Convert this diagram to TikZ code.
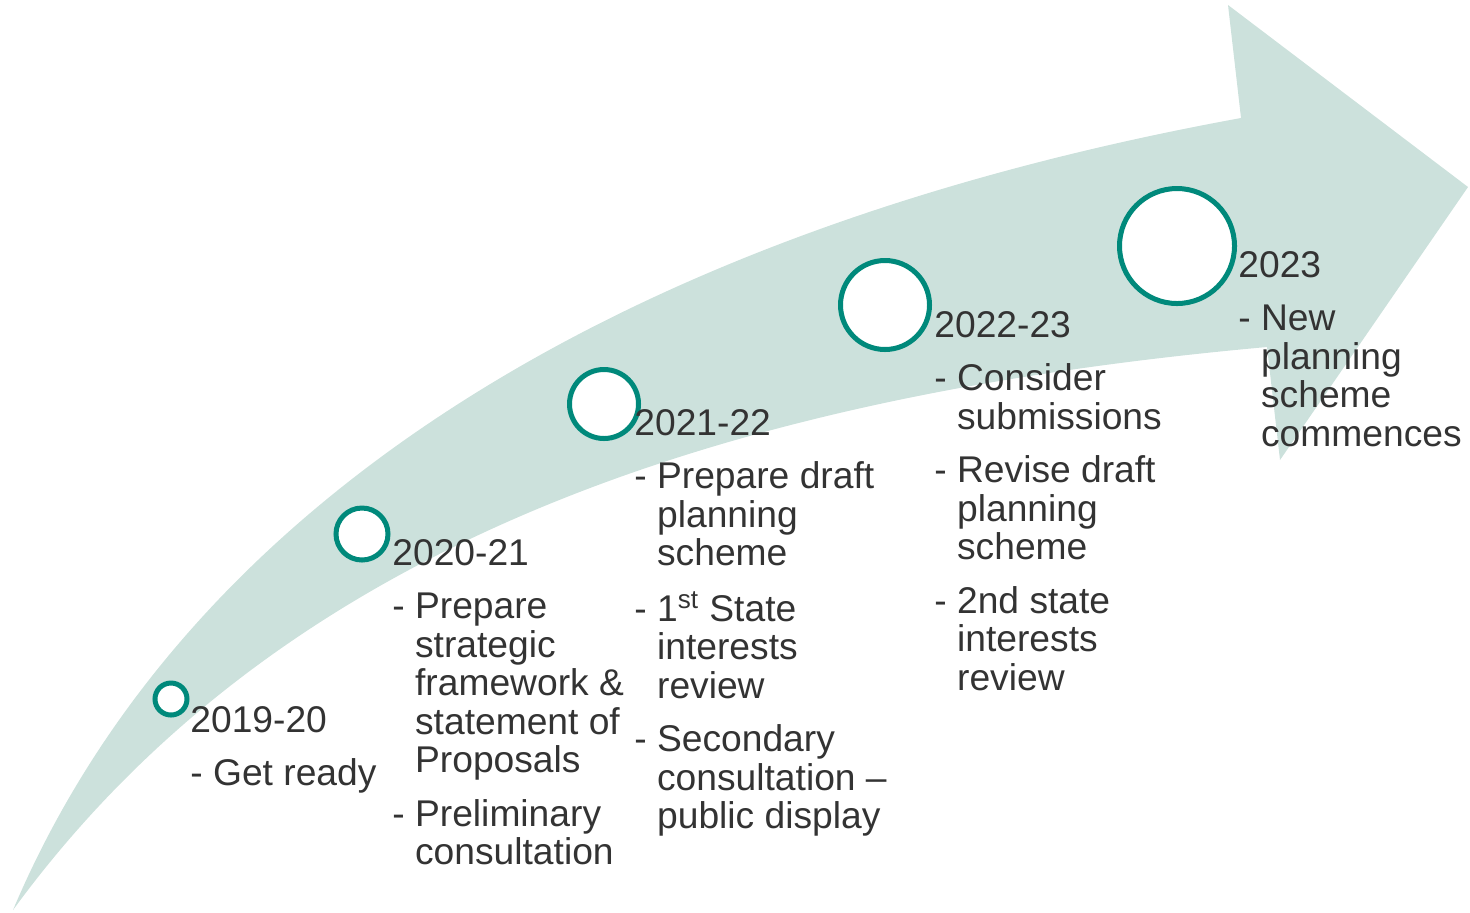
\documentclass[tikz,border=0pt]{standalone}
\usepackage{fontspec}
\setmainfont{Liberation Sans}
\definecolor{arrowfill}{HTML}{CCE1DC}
\definecolor{ringteal}{HTML}{00897B}
\definecolor{txtgrey}{HTML}{333333}
\newcommand{\itemgap}{7.5pt}
\begin{document}
\begin{tikzpicture}[x=0.5pt,y=-0.5pt,
  ring/.style={circle, draw=ringteal, line width=2.5pt, fill=white, inner sep=0pt},
  lbl/.style={anchor=base west, inner sep=0pt, text=txtgrey, font=\fontsize{18.6}{19.25}\selectfont}]
\useasboundingbox (0,0) rectangle (1470,912);
% big curved arrow
\fill[arrowfill]
  (13,910) .. controls (180,515) and (600,235) .. (1241,118)
  -- (1228,5) -- (1468,187) -- (1280,460) -- (1267,347)
  .. controls (717,396.5) and (279,546) .. (13,910)
  -- cycle;
% milestone rings
\node[ring, minimum size=16pt]   (c1) at (171,699) {};
\node[ring, minimum size=26pt]   (c2) at (362,534) {};
\node[ring, minimum size=34.5pt] (c3) at (604,404) {};
\node[ring, minimum size=44.5pt] (c4) at (885,305) {};
\node[ring, minimum size=57.5pt] (c5) at (1177,246) {};
% labels
\node[lbl] (l1) at (190,732) {\begin{tabular}[t]{@{}l@{}l@{}}
\multicolumn{2}{@{}l@{}}{2019-20}\\[\itemgap]
-~ & Get ready
\end{tabular}};
\node[lbl] (l2) at (392,565) {\begin{tabular}[t]{@{}l@{}l@{}}
\multicolumn{2}{@{}l@{}}{2020-21}\\[\itemgap]
-~ & Prepare\\
 & strategic\\
 & framework \&\\
 & statement of\\
 & Proposals\\[\itemgap]
-~ & Preliminary\\
 & consultation
\end{tabular}};
\node[lbl] (l3) at (634,435) {\begin{tabular}[t]{@{}l@{}l@{}}
\multicolumn{2}{@{}l@{}}{2021-22}\\[\itemgap]
-~ & Prepare draft\\
 & planning\\
 & scheme\\[\itemgap]
-~ & 1\textsuperscript{st} State\\
 & interests\\
 & review\\[\itemgap]
-~ & Secondary\\
 & consultation –\\
 & public display
\end{tabular}};
\node[lbl] (l4) at (934,337) {\begin{tabular}[t]{@{}l@{}l@{}}
\multicolumn{2}{@{}l@{}}{2022-23}\\[\itemgap]
-~ & Consider\\
 & submissions\\[\itemgap]
-~ & Revise draft\\
 & planning\\
 & scheme\\[\itemgap]
-~ & 2nd state\\
 & interests\\
 & review
\end{tabular}};
\node[lbl] (l5) at (1238,277) {\begin{tabular}[t]{@{}l@{}l@{}}
\multicolumn{2}{@{}l@{}}{2023}\\[\itemgap]
-~ & New\\
 & planning\\
 & scheme\\
 & commences
\end{tabular}};
\end{tikzpicture}
\end{document}
